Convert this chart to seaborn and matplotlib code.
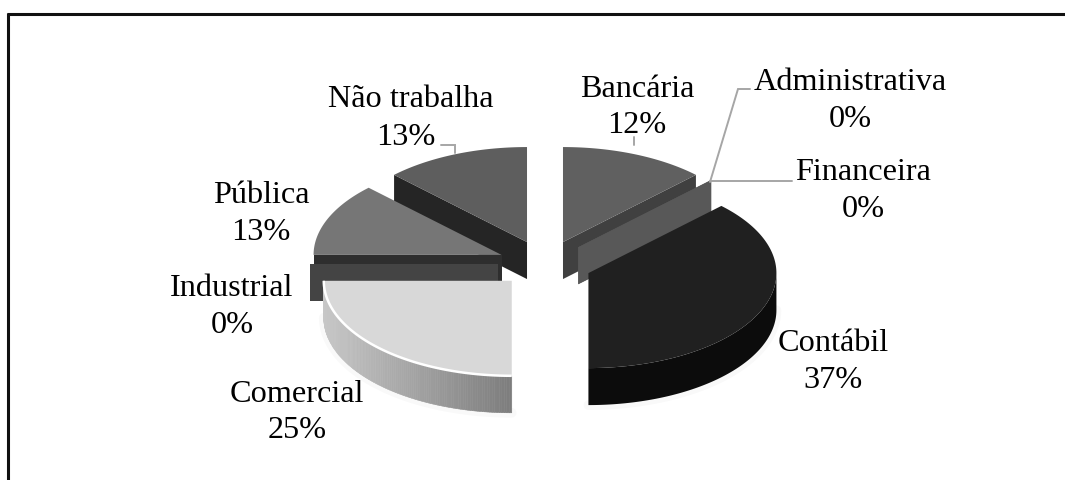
import numpy as np
import matplotlib
matplotlib.use("Agg")
import matplotlib.pyplot as plt
import matplotlib.patheffects as pe
import seaborn as sns

# ---- data -------------------------------------------------------------
categories = ["Bancária", "Administrativa", "Financeira", "Contábil",
              "Comercial", "Industrial", "Pública", "Não trabalha"]
shares = [12.5, 0, 0, 37.5, 25, 0, 12.5, 12.5]
pct_labels = ["12%", "0%", "0%", "37%", "25%", "0%", "13%", "13%"]

# ---- style ------------------------------------------------------------
top_colors = ["#606060", "#585858", "#585858", "#202020",
              "#d8d8d8", "#444444", "#767676", "#5e5e5e"]
cut_colors = ["#404040", "#585858", "#585858", "#181818",
              "#808080", "#444444", "#2e2e2e", "#252525"]
wall_colors = ["#404040", "#585858", "#585858", "#0c0c0c",
               None, "#444444", "#2e2e2e", "#252525"]
draw_order = [7, 0, 1, 2, 6, 5, 4, 3]
CX, CY, RX, RY, DEPTH, EXPLODE = 545, 264, 188, 95, 37, 0.25

label_name_xy = [(637, 97), (850, 90), (863, 180), (833, 351),
                 (297, 402), (232, 296), (261, 203), (411, 107)]
label_pct_xy = [(637, 133), (850, 127), (863, 217), (833, 388),
                (297, 438), (232, 333), (261, 240), (406, 145)]
leaders = {0: [(634, 145), (634, 137)],
           1: [(710, 182), (738, 89), (750, 89)],
           2: [(710, 181), (792, 181)],
           7: [(455, 153), (455, 145), (441, 145)]}

sns.set_theme(style="white")
plt.rcParams["font.family"] = ["Liberation Serif", "DejaVu Serif"]

fig, ax = plt.subplots(figsize=(10.65, 4.8), dpi=100)
ax.set_position([0, 0, 1, 1])
ax.set_xlim(0, 1065)
ax.set_ylim(480, 0)
ax.axis("off")


def rim(center, theta_deg):
    t = np.radians(theta_deg)
    return np.column_stack([center[0] + RX * np.sin(t),
                            center[1] - RY * np.cos(t)])


edges = np.concatenate([[0], np.cumsum(shares)]) / np.sum(shares) * 360
for i in draw_order:
    a0, a1 = edges[i], edges[i + 1]
    mid = np.radians((a0 + a1) / 2)
    c = (CX + EXPLODE * RX * np.sin(mid), CY - EXPLODE * RY * np.cos(mid))
    tip = np.array([c])
    down = np.array([0, DEPTH])
    z = draw_order.index(i) * 3 + 1
    # only cuts that face the viewer are drawn
    visible_cuts = []
    if 180 < a0 < 360:
        visible_cuts.append(a0)
    if 0 < a1 < 180:
        visible_cuts.append(a1)
    for ang in visible_cuts:
        p = rim(c, np.array([ang]))
        quad = np.vstack([tip, p, p + down, tip + down])
        ax.fill(quad[:, 0], quad[:, 1], color=cut_colors[i], lw=0, zorder=z)
    # outer wall (front half only)
    lo, hi = max(a0, 90), min(a1, 270)
    if hi > lo:
        th = np.linspace(lo, hi, 121)
        r = rim(c, th)
        shadow, = ax.plot(r[:, 0], r[:, 1] + DEPTH, color="none", lw=0.1, zorder=0)
        shadow.set_path_effects([pe.SimpleLineShadow(offset=(0, 0), shadow_color="#000000",
                                                     alpha=0.025, linewidth=7)])
        if wall_colors[i] is None:
            xmin, xmax = r[:, 0].min(), r[:, 0].max()
            for k in range(len(th) - 1):
                seg = np.vstack([r[k], r[k + 1], r[k + 1] + down, r[k] + down])
                f = (r[k, 0] - xmin) / (xmax - xmin)
                g = 0.78 - 0.29 * f
                ax.fill(seg[:, 0], seg[:, 1], color=(g, g, g), lw=0.4, zorder=z)
        else:
            poly = np.vstack([r, r[::-1] + down])
            ax.fill(poly[:, 0], poly[:, 1], color=wall_colors[i], lw=0, zorder=z)
    # top surface
    th = np.linspace(a0, a1, 121)
    r = rim(c, th)
    top = np.vstack([tip, r])
    ax.fill(top[:, 0], top[:, 1], color=top_colors[i], lw=0, zorder=z + 1)
    if categories[i] == "Comercial":
        ax.plot(r[:, 0], r[:, 1], color="white", lw=1.8, solid_capstyle="butt", zorder=z + 1)

# leader lines
for pts in leaders.values():
    pts = np.array(pts)
    ax.plot(pts[:, 0], pts[:, 1], color="#a6a6a6", lw=1.4, zorder=40, solid_joinstyle="miter")

# labels
for name, pct, nxy, pxy in zip(categories, pct_labels, label_name_xy, label_pct_xy):
    ax.text(*nxy, name, ha="center", va="baseline", fontsize=23.2, color="black", zorder=50)
    ax.text(*pxy, pct, ha="center", va="baseline", fontsize=23.2, color="black", zorder=50)

# frame: only the top and left rules are visible in the crop
ax.plot([7, 1065], [14, 14], color="#111111", lw=2.2, solid_capstyle="butt", zorder=60, clip_on=False)
ax.plot([8, 8], [13, 480], color="#111111", lw=2.2, solid_capstyle="butt", zorder=60, clip_on=False)

fig.savefig("out.png", dpi=100, facecolor="white")
